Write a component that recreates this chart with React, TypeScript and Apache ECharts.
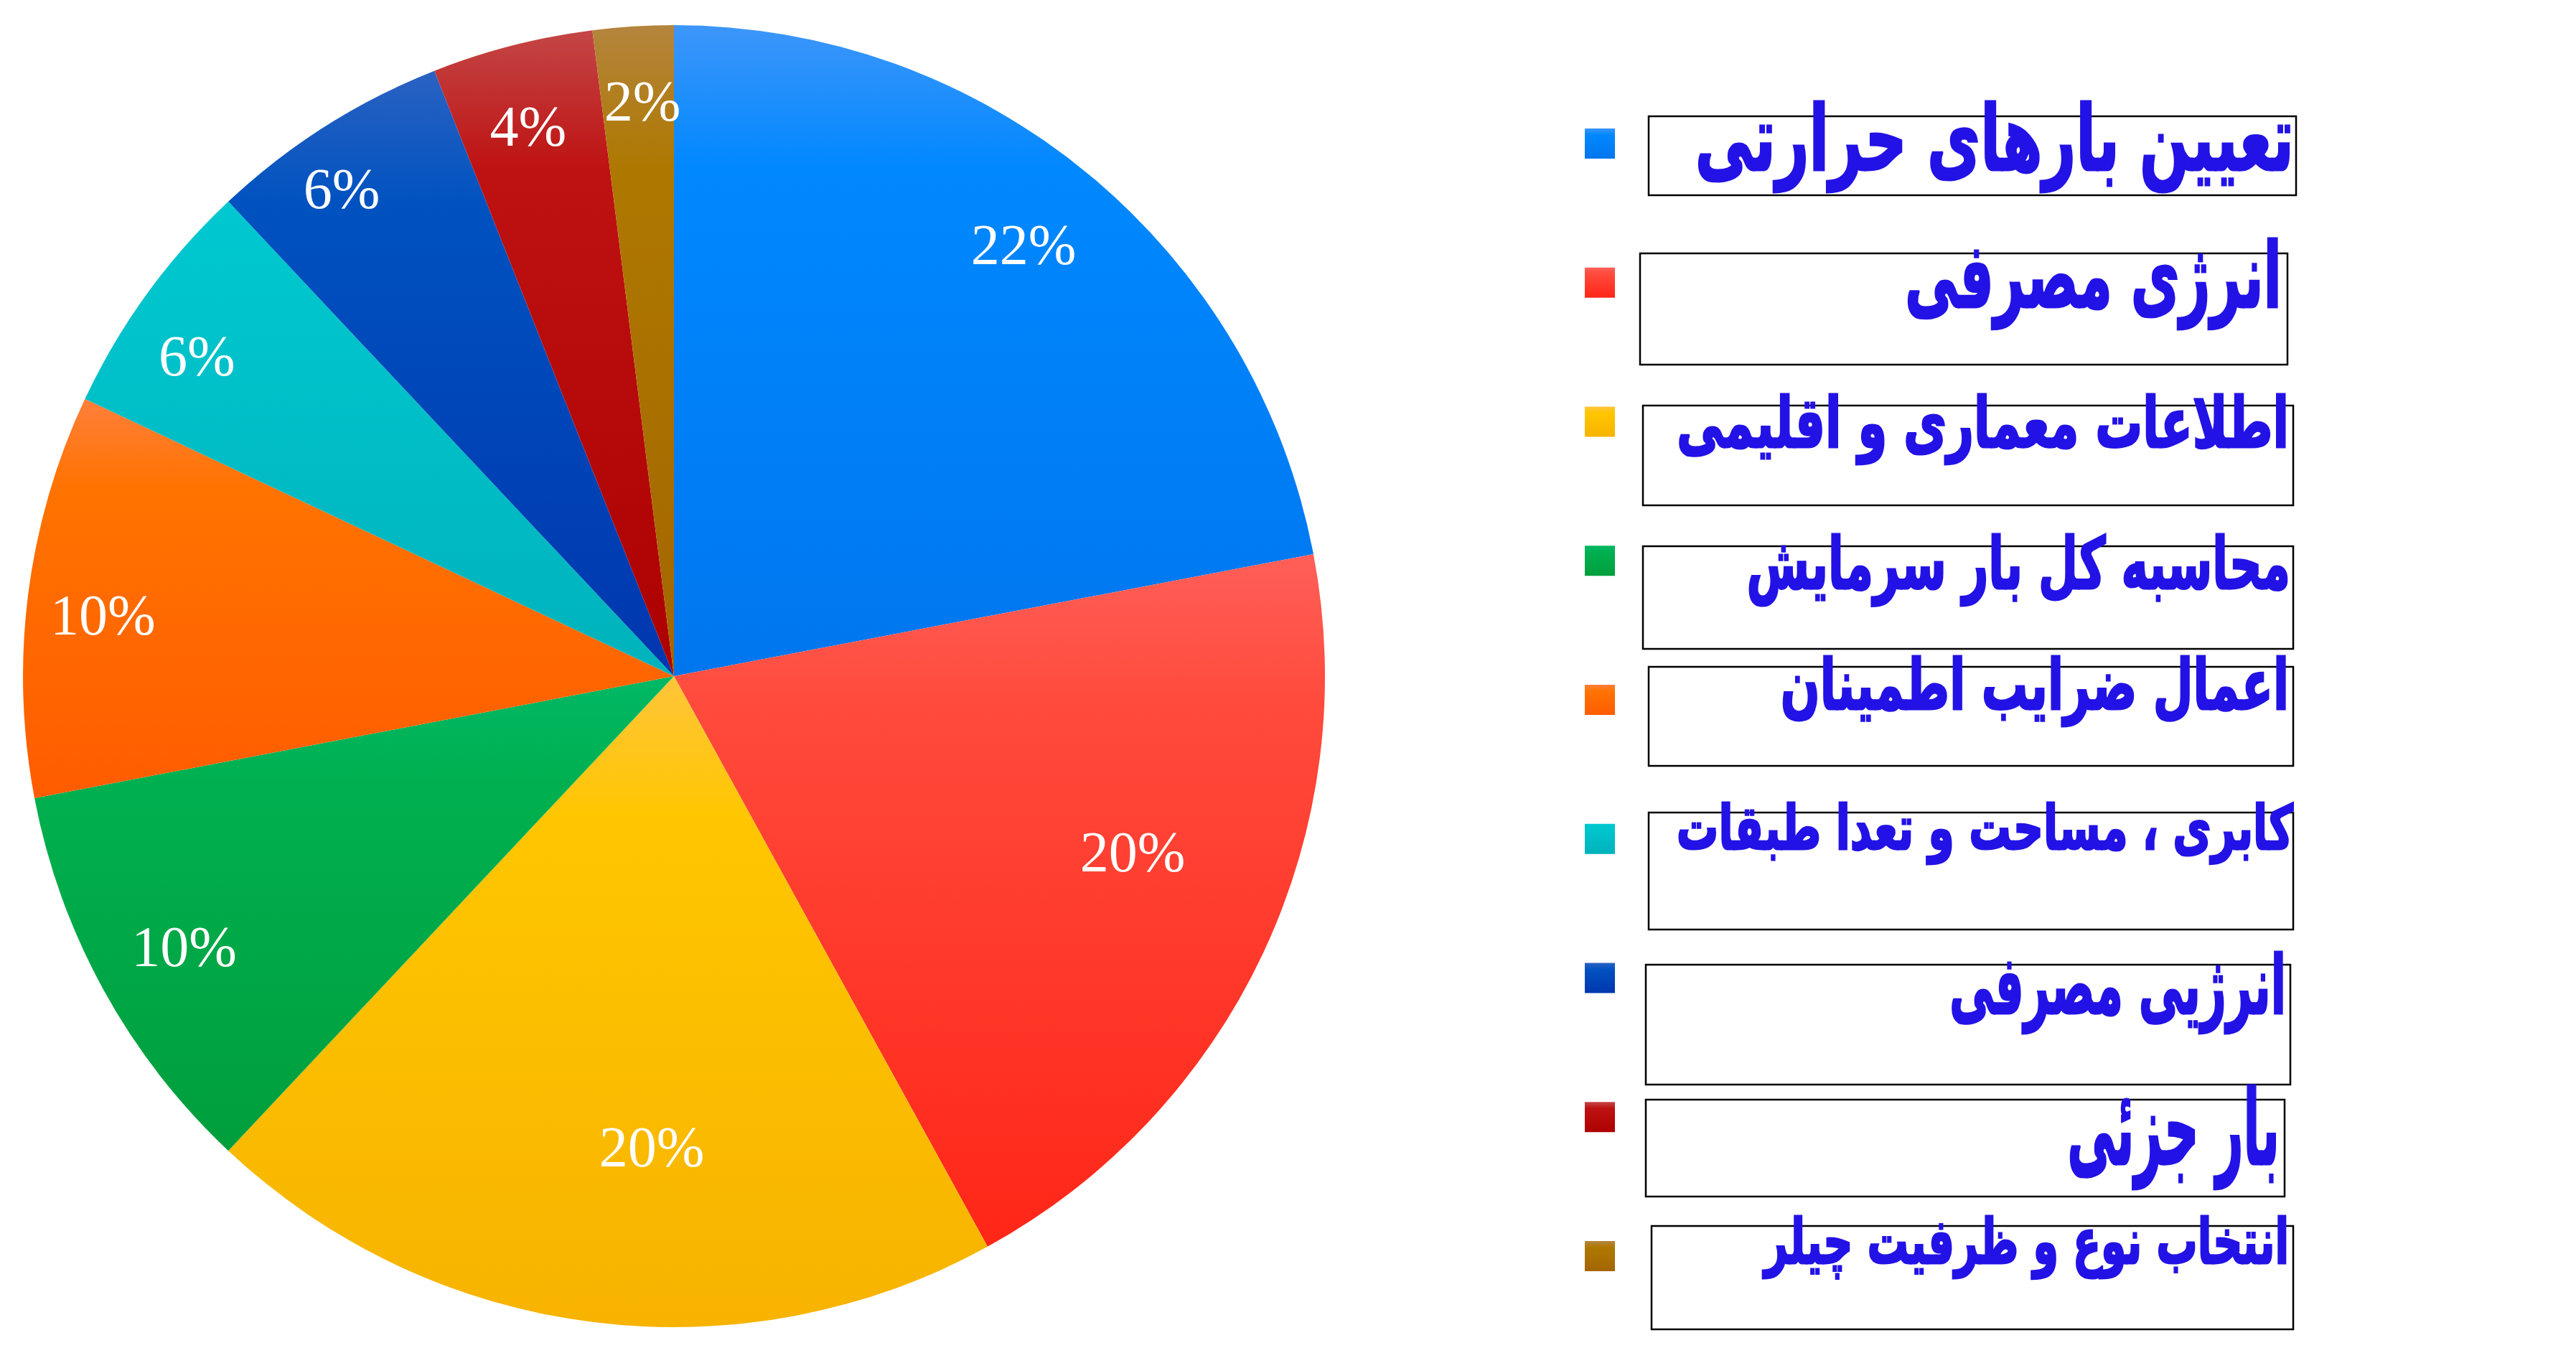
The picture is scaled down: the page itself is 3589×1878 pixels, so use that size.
import React, { useEffect, useRef } from 'react';
import * as echarts from 'echarts';

// ---------- data ----------
const categories = [
  'تعیین بارهای حرارتی',
  'انرژی مصرفی',
  'اطلاعات معماری و اقلیمی',
  'محاسبه کل بار سرمایش',
  'اعمال ضرایب اطمینان',
  'کابری ، مساحت و تعدا طبقات',
  'انرژیی مصرفی',
  'بار جزئی',
  'انتخاب نوع و ظرفیت چیلر',
];
const values = [22, 20, 20, 10, 10, 6, 6, 4, 2];

// ---------- styles / layout ----------
const sliceColors = [
  ['#3d96fa', '#0088ff', '#0076ee'],
  ['#ff5f58', '#ff4a3c', '#ff2617'],
  ['#ffc53a', '#ffc600', '#f7b300'],
  ['#00b865', '#00b050', '#009e3c'],
  ['#ff7f3a', '#ff7300', '#ff5c00'],
  ['#00c8d0', '#00c4cc', '#00b2bc'],
  ['#2a62c2', '#0052c0', '#0036ae'],
  ['#c44646', '#be1111', '#ad0000'],
  ['#b4853e', '#ae7800', '#a46600'],
];
const PIE_CENTER = [939, 942];
const PIE_R = 907;
const LABEL_R = 794;
const labelNudge = [
  [-21, 13], [-82, -94], [69, -135], [16, -7], [-5, 15], [-20, 22], [-36, -6], [-5, 6], [6, -6],
];
const MARKER_X = 2208;
const MARKER_SIZE = 42;
const MARKER_TOP = 179;
const MARKER_STEP = 193.75;
// [x1, y1, x2, y2]
const boxes = [
  [2297, 162, 3199, 272],
  [2285, 353, 3187, 508],
  [2289, 565, 3195, 704],
  [2289, 761, 3195, 904],
  [2297, 929, 3195, 1067],
  [2297, 1132, 3195, 1295],
  [2293, 1344, 3191, 1511],
  [2293, 1532, 3183, 1667],
  [2301, 1708, 3195, 1852],
];
// [right edge, baseline, alef height, ink width]
const textBoxes = [
  [3196, 237, 79, 834],
  [3179, 428, 78, 525],
  [3189, 623, 60, 853],
  [3191, 820, 62, 757],
  [3189, 988, 61, 708],
  [3195, 1183, 53, 859],
  [3185, 1412, 70, 469],
  [3176, 1622, 90, 296],
  [3189, 1760, 54, 731],
];
const ALEF_RATIO = 0.62;
const CENTRAL_RATIO = 0.346;
const TEXT_FONT = '"DejaVu Sans"';
const TEXT_COLOR = '#2312e6';

function grad(c: string[]) {
  return new echarts.graphic.LinearGradient(0, 0, 0, 1, [
    { offset: 0, color: c[0] },
    { offset: 0.22, color: c[1] },
    { offset: 1, color: c[2] },
  ]);
}

export default function App() {
  const ref = useRef<HTMLDivElement>(null);
  useEffect(() => {
    if (!ref.current) return;
    const chart = echarts.init(ref.current, null, { renderer: 'svg' });
    const canvas = document.createElement('canvas');
    const ctx = canvas.getContext('2d')!;

    const graphics: any[] = [];
    categories.forEach((name, i) => {
      graphics.push({
        type: 'rect',
        shape: { x: MARKER_X, y: MARKER_TOP + i * MARKER_STEP, width: MARKER_SIZE, height: MARKER_SIZE },
        style: { fill: grad(sliceColors[i]) },
      });
      const b = boxes[i];
      graphics.push({
        type: 'rect',
        shape: { x: b[0], y: b[1], width: b[2] - b[0], height: b[3] - b[1] },
        style: { fill: 'none', stroke: '#000', lineWidth: 2.5 },
      });
    });
    categories.forEach((name, i) => {
      const t = textBoxes[i];
      const fs = Math.round(t[2] / ALEF_RATIO);
      ctx.font = `bold ${fs}px ${TEXT_FONT}`;
      const w = ctx.measureText(name).width || t[3];
      const sx = t[3] / w;
      graphics.push({
        type: 'text',
        x: t[0],
        y: t[1] - CENTRAL_RATIO * fs,
        scaleX: sx,
        style: {
          text: name,
          x: 0,
          y: 0,
          align: 'right',
          verticalAlign: 'middle',
          fontSize: fs,
          fontWeight: 'bold',
          fontFamily: TEXT_FONT,
          fill: TEXT_COLOR,
          stroke: TEXT_COLOR,
          lineWidth: 3,
        },
      });
    });

    const data = categories.map((name, i) => ({
      name,
      value: values[i],
      itemStyle: { color: grad(sliceColors[i]) },
    }));

    chart.setOption({
      animation: false,
      backgroundColor: '#ffffff',
      series: [
        {
          type: 'pie',
          center: PIE_CENTER,
          radius: [0, PIE_R],
          startAngle: 90,
          clockwise: true,
          silent: true,
          label: { show: false },
          labelLine: { show: false },
          data,
        },
        {
          type: 'pie',
          center: PIE_CENTER,
          radius: [LABEL_R - 1, LABEL_R + 1],
          startAngle: 90,
          clockwise: true,
          silent: true,
          itemStyle: { color: 'rgba(0,0,0,0)' },
          label: {
            show: true,
            position: 'inside',
            formatter: '{c}%',
            color: '#ffffff',
            fontFamily: '"Liberation Serif", "Times New Roman", serif',
            fontSize: 80,
            fontWeight: 'normal',
          },
          labelLine: { show: false },
          labelLayout: (params: any) => {
            const n = labelNudge[params.dataIndex] || [0, 0];
            return { dx: n[0], dy: n[1] };
          },
          data: categories.map((name, i) => ({ name, value: values[i] })),
        },
      ],
      graphic: graphics,
    });
    return () => chart.dispose();
  }, []);
  return (
    <div
      ref={ref}
      style={{ position: 'absolute', left: 0, top: 0, width: 3589, height: 1878 }}
    />
  );
}
